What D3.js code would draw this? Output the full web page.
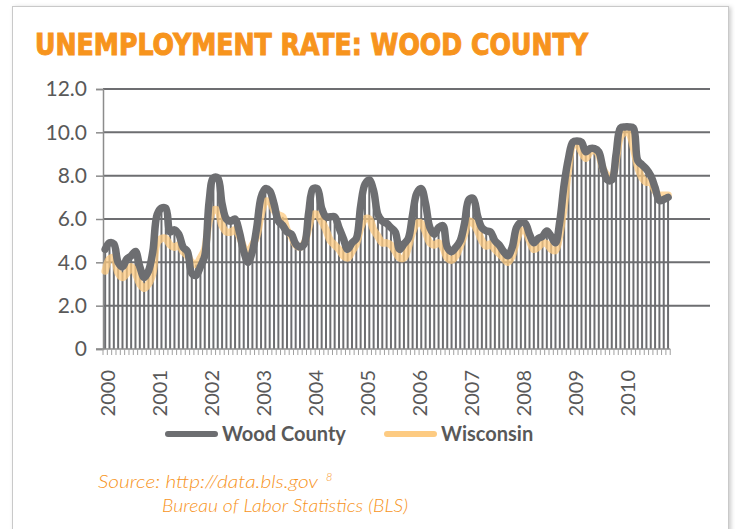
<!DOCTYPE html>
<html>
<head>
<meta charset="utf-8">
<script src="https://cdn.jsdelivr.net/npm/d3@7"></script>
<style>
  body { margin: 0; background: #fff; }
  svg { display: block; }
</style>
</head>
<body>
<div id="chart"></div>
<script>
// monthly unemployment rate, Jan 2000 - Nov 2010
var years = ["2000", "2001", "2002", "2003", "2004", "2005", "2006", "2007", "2008", "2009", "2010"];
var yTicks = [0, 2, 4, 6, 8, 10, 12];

var woodCounty = [
  4.6, 4.9, 4.85, 4.0, 3.8, 4.15, 4.3, 4.5, 3.8, 3.3, 3.6, 4.5,
  6.2, 6.5, 6.5, 5.4, 5.5, 5.3, 4.7, 4.5, 3.5, 3.4, 3.8, 4.3,
  6.8, 7.9, 7.9, 6.7, 6.0, 5.9, 6.0, 5.4, 4.5, 4.0, 4.5, 5.6,
  7.0, 7.4, 7.3, 6.7, 5.9, 5.7, 5.4, 5.3, 4.85, 4.7, 4.85, 6.3,
  7.4, 7.4, 6.5, 6.1, 6.1, 6.1, 5.6, 5.1, 4.6, 4.9, 5.1, 6.6,
  7.6, 7.8, 7.3, 6.2, 5.9, 5.8, 5.6, 5.4, 4.6, 4.85, 5.1, 6.2,
  7.2, 7.4, 6.7, 5.6, 5.3, 5.6, 5.7, 4.7, 4.5, 4.7, 5.0, 5.8,
  6.9, 6.95, 6.15, 5.6, 5.45, 5.4, 5.0, 4.8, 4.5, 4.3, 4.7, 5.6,
  5.85, 5.8, 5.3, 4.9, 5.1, 5.2, 5.45, 5.2, 4.9, 5.9, 7.6, 8.8,
  9.55, 9.6, 9.55, 9.1, 9.25, 9.25, 9.1, 8.3, 7.8, 7.8, 9.0, 10.2,
  10.25, 10.25, 10.2, 8.7, 8.5, 8.3, 8.0, 7.45, 6.85, 6.9, 7.0
];

var wisconsin = [
  3.6, 4.15, 4.2, 3.5, 3.3, 3.5, 3.8, 3.5, 3.0, 2.8, 3.0, 3.5,
  4.9, 5.1, 5.1, 4.8, 4.7, 4.8, 4.5, 4.3, 4.0, 3.9, 4.2, 4.6,
  5.9, 6.4, 6.4, 5.7, 5.4, 5.4, 5.5, 5.2, 4.7, 4.4, 4.8, 5.2,
  6.2, 6.8, 6.8, 6.4, 6.2, 6.1, 5.5, 5.2, 4.8, 4.7, 4.9, 5.6,
  6.2, 6.2, 5.9, 5.5, 5.0, 4.8, 4.6, 4.3, 4.2, 4.5, 4.85, 5.6,
  6.0, 6.0, 5.5, 5.2, 4.9, 4.9, 4.8, 4.5, 4.2, 4.2, 4.7, 5.4,
  5.8, 5.8, 5.4, 4.9, 4.8, 4.9, 4.7, 4.2, 4.1, 4.3, 4.75, 5.3,
  5.9, 5.8, 5.45, 5.0, 4.75, 4.85, 4.6, 4.4, 4.2, 4.0, 4.3, 5.0,
  5.45, 5.45, 5.0, 4.6, 4.7, 4.9, 4.85, 4.6, 4.55, 5.3, 6.6, 8.3,
  9.4, 9.45, 9.1, 8.8, 9.1, 9.2, 8.95, 8.3, 8.0, 7.9, 8.7, 9.8,
  10.0, 9.95, 9.3, 8.4, 7.9, 7.7, 7.7, 7.3, 7.1, 7.1, 7.1
];

var width = 735, height = 529;
var months = d3.range(woodCounty.length);

var svg = d3.select("#chart").append("svg")
    .attr("width", width)
    .attr("height", height);

// frame with a soft shadow
var defs = svg.append("defs");
var shadow = defs.append("filter").attr("id", "shadow")
    .attr("x", "-5%").attr("y", "-5%").attr("width", "110%").attr("height", "110%");
shadow.append("feDropShadow").attr("dx", 2).attr("dy", 1).attr("stdDeviation", 2)
    .attr("flood-color", "#000").attr("flood-opacity", 0.2);

svg.append("rect")
    .attr("x", 12.5).attr("y", 6.5)
    .attr("width", 716).attr("height", 560)
    .attr("fill", "#fff")
    .attr("stroke", "#c9c9c9")
    .attr("filter", "url(#shadow)");

svg.append("text")
    .attr("x", 35).attr("y", 55)
    .attr("textLength", 553).attr("lengthAdjust", "spacingAndGlyphs")
    .style("font-family", "'Liberation Sans Narrow', 'DejaVu Sans Condensed', sans-serif")
    .style("font-weight", "bold")
    .style("font-size", "30px")
    .style("fill", "#f7941d")
    .style("stroke", "#f7941d")
    .style("stroke-width", 1)
    .text("UNEMPLOYMENT RATE: WOOD COUNTY");

// scales
var x = d3.scaleBand().domain(months).range([103, 103 + 4.33 * months.length]);
var y = d3.scaleLinear().domain([0, 12]).range([349, 89]);
var gridRight = 710;

// horizontal gridlines
svg.append("g").selectAll("line")
    .data(yTicks.filter(function(d) { return d > 0; }))
    .enter().append("line")
    .attr("x1", 103).attr("x2", gridRight)
    .attr("y1", function(d) { return y(d); })
    .attr("y2", function(d) { return y(d); })
    .attr("stroke", "#6d6e71")
    .attr("stroke-width", 2);

// y axis
var yAxis = svg.append("g")
    .attr("transform", "translate(103,0)")
    .call(d3.axisLeft(y).tickValues(yTicks).tickSize(7).tickPadding(9)
        .tickFormat(function(d) { return d === 0 ? "0" : d3.format(".1f")(d); }));
yAxis.select(".domain").attr("stroke", "#8c8c8c").attr("stroke-width", 1.5);
yAxis.selectAll(".tick line").attr("stroke", "#8c8c8c").attr("stroke-width", 1.5);
yAxis.selectAll(".tick text")
    .style("font-family", "Lato, 'Open Sans', sans-serif")
    .style("font-size", "21px")
    .style("fill", "#595959");

// drop lines from the highest point of each month
svg.append("g").selectAll("line")
    .data(months)
    .enter().append("line")
    .attr("x1", function(i) { return x(i) + x.bandwidth() / 2; })
    .attr("x2", function(i) { return x(i) + x.bandwidth() / 2; })
    .attr("y1", y(0))
    .attr("y2", function(i) { return y(Math.max(woodCounty[i], wisconsin[i])); })
    .attr("stroke", "#6d6e71")
    .attr("stroke-width", 2);

// series lines
var line = function(values) {
    return d3.line()
        .x(function(d, i) { return x(i) + x.bandwidth() / 2; })
        .y(function(d) { return y(d); })
        .curve(d3.curveCatmullRom.alpha(0.5))(values);
};

svg.append("path")
    .attr("d", line(wisconsin))
    .attr("fill", "none")
    .attr("stroke", "#fdcb82")
    .attr("stroke-opacity", 0.75)
    .attr("stroke-width", 7.5)
    .attr("stroke-linejoin", "round")
    .attr("stroke-linecap", "round");

svg.append("path")
    .attr("d", line(woodCounty))
    .attr("fill", "none")
    .attr("stroke", "#6d6e71")
    .attr("stroke-width", 7.5)
    .attr("stroke-linejoin", "round")
    .attr("stroke-linecap", "round");

// x axis with a small tick for every month
var xAxis = svg.append("g").attr("transform", "translate(0," + y(0) + ")");
xAxis.append("line")
    .attr("x1", 96).attr("x2", x.range()[1])
    .attr("stroke", "#8c8c8c").attr("stroke-width", 1.5);
xAxis.selectAll(".mtick")
    .data(months.concat([months.length]))
    .enter().append("line")
    .attr("class", "mtick")
    .attr("x1", function(i) { return 103 + i * x.step(); })
    .attr("x2", function(i) { return 103 + i * x.step(); })
    .attr("y1", 0).attr("y2", 6)
    .attr("stroke", "#a0a0a0").attr("stroke-width", 1);

xAxis.selectAll(".year")
    .data(years)
    .enter().append("text")
    .attr("class", "year")
    .attr("transform", function(d, k) {
        return "translate(" + (x(k * 12) + x.bandwidth() / 2 + 2) + ",21) rotate(-90)";
    })
    .attr("text-anchor", "end")
    .attr("dominant-baseline", "central")
    .style("font-family", "Lato, 'Open Sans', sans-serif")
    .style("font-size", "20px")
    .style("fill", "#595959")
    .text(function(d) { return d; });

// legend
var legend = [
    {name: "Wood County", color: "#6d6e71", x: 168},
    {name: "Wisconsin", color: "#fdcb82", x: 387}
];
var lg = svg.append("g").selectAll("g")
    .data(legend)
    .enter().append("g")
    .attr("transform", function(d) { return "translate(" + d.x + ",434)"; });
lg.append("line")
    .attr("x1", 0).attr("x2", 47)
    .attr("stroke", function(d) { return d.color; })
    .attr("stroke-width", 6)
    .attr("stroke-linecap", "round");
lg.append("text")
    .attr("x", 54).attr("y", 7)
    .style("font-family", "Lato, 'Open Sans', sans-serif")
    .style("font-weight", "bold")
    .style("font-size", "20px")
    .style("fill", "#595959")
    .text(function(d) { return d.name; });

// source note
var src = svg.append("g")
    .style("font-family", "Lato, 'Open Sans', sans-serif")
    .style("font-style", "italic")
    .style("font-weight", "300")
    .style("fill", "#f7941d");
src.append("text")
    .attr("x", 98).attr("y", 488)
    .attr("textLength", 220).attr("lengthAdjust", "spacingAndGlyphs")
    .style("font-size", "17px")
    .text("Source: http://data.bls.gov");
src.append("text")
    .attr("x", 326).attr("y", 481)
    .style("font-size", "11px")
    .text("8");
src.append("text")
    .attr("x", 162).attr("y", 512)
    .attr("textLength", 246).attr("lengthAdjust", "spacingAndGlyphs")
    .style("font-size", "17px")
    .text("Bureau of Labor Statistics (BLS)");
</script>
</body>
</html>
